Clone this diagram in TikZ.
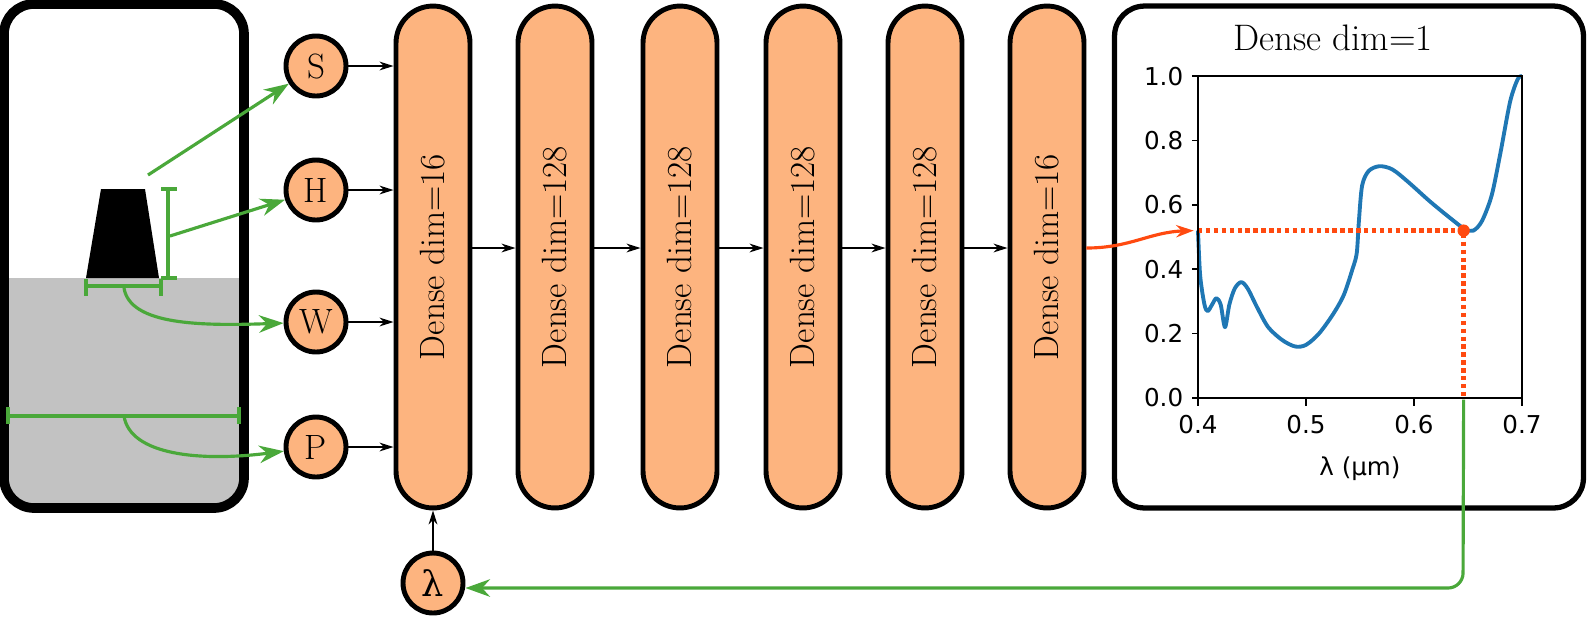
\documentclass[tikz,border=0pt]{standalone}
\usepackage{fontspec}
\newfontfamily\dvs{DejaVu Sans}
\newfontfamily\dvserif{DejaVu Serif}
\usetikzlibrary{arrows.meta}
\definecolor{org}{HTML}{FDB47F}
\definecolor{grn}{HTML}{4AA83A}
\definecolor{blu}{HTML}{1F77B4}
\definecolor{ored}{HTML}{FF4A10}
\begin{document}
\begin{tikzpicture}[x=0.02cm,y=-0.02cm,
 circ/.style={circle,draw,line width=2.8pt,fill=org,minimum size=1.2cm,inner sep=0pt,font=\fontsize{20}{24}\selectfont},
 dense/.style={draw,line width=2.8pt,fill=org,rounded corners=0.74cm,minimum width=1.48cm,minimum height=10.04cm,inner sep=0pt},
 dlab/.style={rotate=90,font=\fontsize{20}{24}\selectfont},
 blk/.style={-{Stealth[length=8pt,width=5pt]},line width=1pt},
 gr/.style={grn,line width=1.8pt},
 gra/.style={gr,-{Stealth[length=14pt,width=10pt]}},
 tick/.style={font=\dvs\fontsize{14}{16}\selectfont}]
\useasboundingbox (0,0) rectangle (1588,630);
% left panel
\begin{scope}
\clip[rounded corners=0.6cm] (4,4) rectangle (244,508);
\fill[black!24] (4,278) rectangle (244,508);
\end{scope}
\draw[line width=5.5pt,rounded corners=0.6cm] (4,4) rectangle (244,508);
\fill (101,189) -- (145,189) -- (159,278) -- (86,278) -- cycle;
\coordinate (sstart) at (148,175);
\draw[gr] (168,189) -- (168,278) (161,189) -- (177,189) (161,278) -- (177,278);
\draw[gr] (86,286) -- (161,286) (86,279) -- (86,296) (161,279) -- (161,296);
\draw[gr] (8,416) -- (239,416) (8,407) -- (8,424) (239,407) -- (239,424);
\node[circ] (S) at (316,66) {S};
\node[circ] (H) at (316,190) {H};
\node[circ] (W) at (316,322) {W};
\node[circ] (P) at (316,447) {P};
\node[circ,font=\dvserif\fontsize{20}{24}\selectfont] (L) at (433,583) {λ};
\draw[gra] (sstart) -- (S);
\coordinate (hs) at (170,236);
\draw[gra] (hs) -- (H);
\coordinate (ws) at (124,288);
\draw[gra] (ws) .. controls (130,325) and (200,326) .. (W);
\coordinate (ps) at (124,416);
\draw[gra] (ps) .. controls (130,455) and (200,462) .. (P);
% dense
\foreach \n/\x/\t in {d1/433/16,d2/555/128,d3/680/128,d4/803/128,d5/925/128,d6/1047/16}{
 \node[dense] (\n) at (\x,257) {};
 \node[dlab] at (\x,257) {Dense dim=\t};
}
\draw[blk] (S) -- (S-|d1.west);
\draw[blk] (H) -- (H-|d1.west);
\draw[blk] (W) -- (W-|d1.west);
\draw[blk] (P) -- (P-|d1.west);
\draw[blk] (L) -- (d1);
\foreach \a/\b in {d1/d2,d2/d3,d3/d4,d4/d5,d5/d6}
 \draw[blk] (\a.east|-0,248) -- (\b.west|-0,248);
% right panel
\node[draw,line width=3pt,rounded corners=0.6cm,minimum width=9.38cm,minimum height=10.04cm] (R) at (1349,257) {};
\node[font=\fontsize{21}{25}\selectfont] (T) at (1333,38) {Dense dim=1};
\begin{scope}[shift={(1198,398)},x=21.6cm,y=6.44cm]
\draw[blu,line width=2.2pt,line join=round] plot[smooth,tension=0.5] coordinates{(0,0.52)(0.002,0.38)(0.006,0.29)(0.009,0.27)(0.013,0.29)(0.017,0.31)(0.021,0.29)(0.025,0.22)(0.029,0.29)(0.034,0.34)(0.04,0.36)(0.046,0.34)(0.055,0.28)(0.065,0.22)(0.078,0.18)(0.09,0.16)(0.1,0.165)(0.112,0.2)(0.125,0.26)(0.135,0.32)(0.143,0.4)(0.147,0.45)(0.149,0.55)(0.152,0.66)(0.158,0.705)(0.168,0.72)(0.18,0.71)(0.195,0.67)(0.215,0.61)(0.235,0.555)(0.247,0.525)(0.255,0.52)(0.263,0.55)(0.272,0.63)(0.28,0.76)(0.289,0.92)(0.296,0.99)(0.3,1.0)};
\draw[ored,line width=2.5pt,dotted] (0,0.52) -- (0.246,0.52) -- (0.246,0);
\fill[ored] (0.246,0.52) coordinate (pt) circle (3.5pt);
\draw[line width=0.9pt] (0,0) rectangle (0.3,1);
\foreach \v/\l in {0/0.0,0.2/0.2,0.4/0.4,0.6/0.6,0.8/0.8,1/1.0}{
 \draw[line width=0.9pt] (0,\v) -- (-0.006,\v);
 \node[tick,anchor=east] at (-0.008,\v) {\l};}
\foreach \v/\l in {0/0.4,0.1/0.5,0.2/0.6,0.3/0.7}{
 \draw[line width=0.9pt] (\v,0) -- (\v,-0.025);
 \node[tick,anchor=north] at (\v,-0.035) {\l};}
\node[tick] (xl) at (0.15,-0.22) {λ (µm)};
\coordinate (pin) at (-0.004,0.52);
\coordinate (gstart) at (0.246,-0.005);
\end{scope}
\draw[ored,line width=1.8pt,-{Stealth[length=10pt,width=7pt]}] (d6.east|-0,248) .. controls (1130,248) and (1150,232) .. (pin);
\draw[gr,-{Stealth[length=14pt,width=10pt]},rounded corners=0.3cm] (gstart) -- (1463,588) -- (L.east|-0,588);
\end{tikzpicture}
\end{document}
